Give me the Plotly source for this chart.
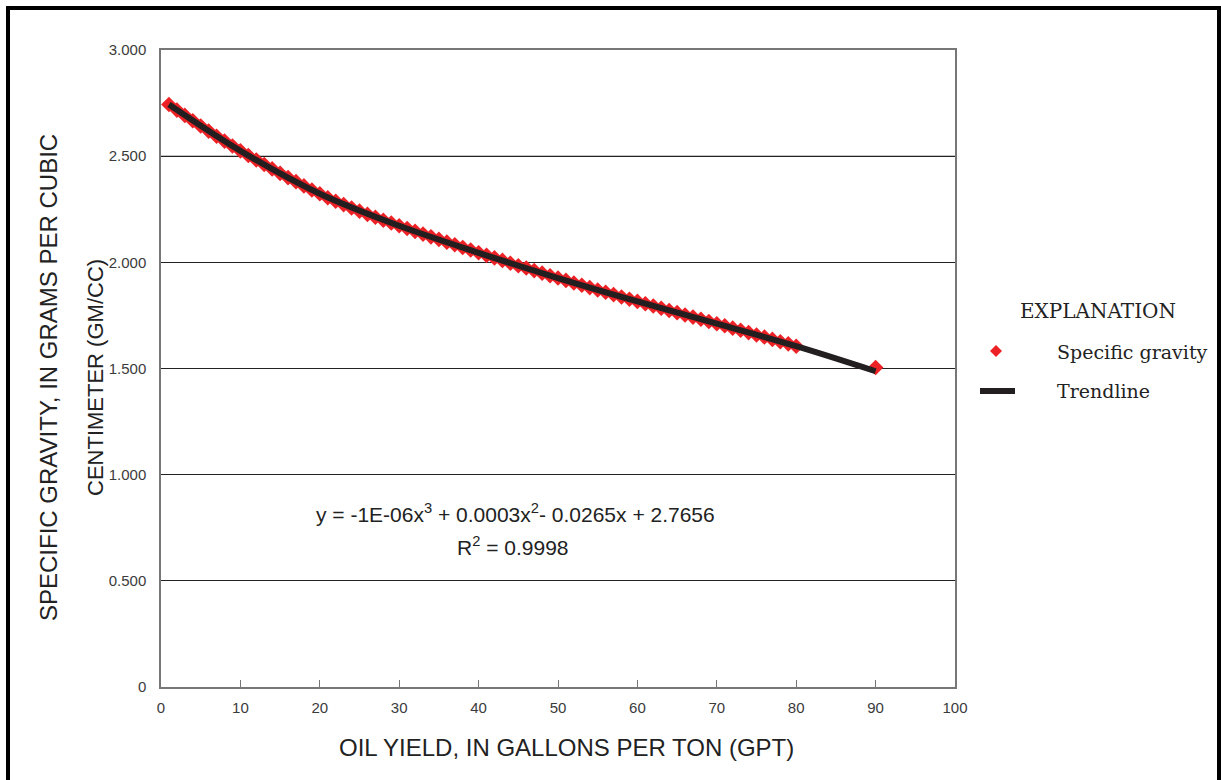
import plotly.graph_objects as go

# ---- data ----
oil_yield = list(range(1, 81)) + [90]
specific_gravity = [
    2.743, 2.717, 2.692, 2.667, 2.642, 2.618, 2.594, 2.571, 2.548, 2.525,
    2.503, 2.482, 2.461, 2.440, 2.419, 2.399, 2.380, 2.360, 2.341, 2.323,
    2.304, 2.288, 2.272, 2.256, 2.241, 2.226, 2.212, 2.198, 2.185, 2.172,
    2.159, 2.146, 2.133, 2.120, 2.108, 2.095, 2.083, 2.070, 2.058, 2.045,
    2.033, 2.021, 2.009, 1.996, 1.984, 1.973, 1.961, 1.949, 1.937, 1.926,
    1.915, 1.903, 1.892, 1.881, 1.870, 1.859, 1.848, 1.837, 1.826, 1.816,
    1.805, 1.794, 1.784, 1.773, 1.763, 1.752, 1.742, 1.732, 1.721, 1.711,
    1.701, 1.690, 1.680, 1.669, 1.658, 1.648, 1.637, 1.626, 1.616, 1.605,
    1.505,
]
trend_x = [1, 10, 20, 30, 40, 50, 60, 70, 80, 90]
trend_y = [2.743, 2.525, 2.323, 2.172, 2.045, 1.926, 1.816, 1.711, 1.605, 1.487]

x_ticks = [0, 10, 20, 30, 40, 50, 60, 70, 80, 90, 100]
y_ticks = [0, 0.5, 1.0, 1.5, 2.0, 2.5, 3.0]
y_tick_text = ["0", "0.500", "1.000", "1.500", "2.000", "2.500", "3.000"]

x_title = "OIL YIELD, IN GALLONS PER TON (GPT)"
y_title_1 = "SPECIFIC GRAVITY, IN GRAMS PER CUBIC"
y_title_2 = "CENTIMETER (GM/CC)"
equation = "y = -1E-06x<sup>3</sup> + 0.0003x<sup>2</sup>- 0.0265x + 2.7656"
r_squared = "R<sup>2</sup> = 0.9998"
legend_title = "EXPLANATION"
legend_labels = ["Specific gravity", "Trendline"]

# ---- layout geometry ----
W, H = 1221, 780
L, R, T, B = 161, 955, 50, 687
pw, ph = R - L, B - T


def px(xp):
    return (xp - L) / pw


def py(yp):
    return (B - yp) / ph


RED = "#ec2227"
BLACK = "#231f20"
SANS = "Liberation Sans, Arial, sans-serif"
SERIF = "DejaVu Serif, serif"
TICK_FONT = dict(family=SANS, size=15, color="#3b3b3b")

fig = go.Figure()
fig.add_trace(go.Scatter(
    x=oil_yield, y=specific_gravity, mode="markers",
    marker=dict(symbol="diamond", size=12, color=RED, line=dict(width=0)),
    name=legend_labels[0], showlegend=False,
))
fig.add_trace(go.Scatter(
    x=trend_x, y=trend_y, mode="lines", line_shape="spline",
    line=dict(color=BLACK, width=6),
    name=legend_labels[1], showlegend=False,
))

fig.update_xaxes(
    range=[0, 100], tickvals=x_ticks, ticks="inside", ticklen=7, tickcolor="#777",
    showline=True, linecolor="#777", linewidth=1.5, mirror=True,
    showgrid=False, zeroline=False, tickfont=TICK_FONT, ticklabelstandoff=6,
)
fig.update_yaxes(
    range=[0, 3], tickvals=y_ticks, ticktext=y_tick_text, ticks="",
    showline=True, linecolor="#777", linewidth=1.5, mirror=True,
    showgrid=True, gridcolor="#222", gridwidth=1.2, zeroline=False,
    tickfont=TICK_FONT, ticklabelstandoff=10,
)


def note(text, xp, yp, size, family=SANS, angle=0, xanchor="center"):
    return dict(text=text, x=px(xp), y=py(yp), xref="paper", yref="paper",
                xanchor=xanchor, yanchor="middle", textangle=angle,
                showarrow=False, font=dict(family=family, size=size, color="#222"))


annotations = [
    note(x_title, 566, 747, 24),
    note(y_title_1, 48, 378, 24, angle=-90),
    note(y_title_2, 95, 378, 22, angle=-90),
    note(equation, 515, 513, 21),
    note(r_squared, 513, 546, 21),
    note(legend_title, 1098, 311, 20, family=SERIF),
    note(legend_labels[0], 1055, 352, 19, family=SERIF, xanchor="left"),
    note(legend_labels[1], 1055, 391, 19, family=SERIF, xanchor="left"),
]

shapes = [
    # lighter 2.500 gridline
    dict(type="line", xref="paper", yref="y", x0=0, x1=1, y0=2.5, y1=2.5,
         line=dict(color="#8a8a8a", width=1.5), layer="below"),
    # legend symbols
    dict(type="path", xref="paper", yref="paper",
         path=f"M {px(996)} {py(345)} L {px(1002)} {py(351)} L {px(996)} {py(357)} L {px(990)} {py(351)} Z",
         fillcolor=RED, line=dict(width=0)),
    dict(type="line", xref="paper", yref="paper", x0=px(980), x1=px(1015), y0=py(391), y1=py(391),
         line=dict(color=BLACK, width=6)),
    # outer frame (open at bottom)
    dict(type="line", xref="paper", yref="paper", x0=px(8), x1=px(8), y0=py(6), y1=py(790),
         line=dict(color="black", width=4)),
    dict(type="line", xref="paper", yref="paper", x0=px(6), x1=px(1221), y0=py(8), y1=py(8),
         line=dict(color="black", width=4)),
    dict(type="line", xref="paper", yref="paper", x0=px(1219), x1=px(1219), y0=py(6), y1=py(790),
         line=dict(color="black", width=4)),
]

fig.update_layout(
    width=W, height=H,
    margin=dict(l=L, r=W - R, t=T, b=H - B),
    paper_bgcolor="white", plot_bgcolor="white",
    annotations=annotations, shapes=shapes,
    showlegend=False,
)

fig.write_html(
    "out.html",
    config={"displayModeBar": False},
    post_script="document.body.style.margin='0';document.body.style.overflow='hidden';",
)
